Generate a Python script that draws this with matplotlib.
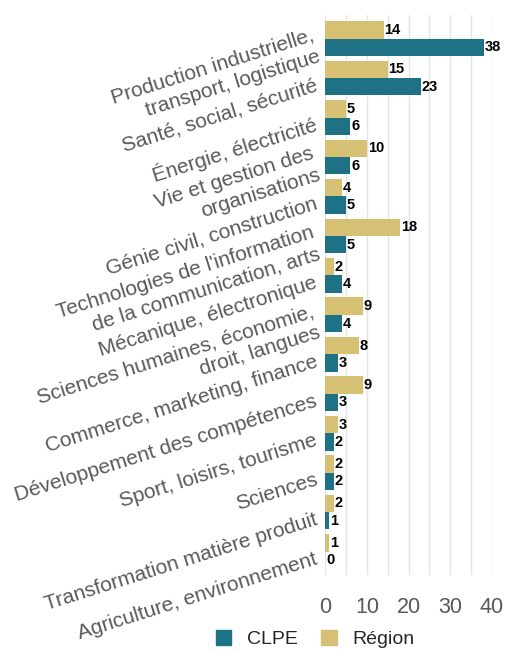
import numpy as np
import matplotlib
matplotlib.use('Agg')
import matplotlib.pyplot as plt
import matplotlib.transforms as mtransforms
from matplotlib.patches import Patch

plt.rcParams['font.family'] = ['Liberation Sans', 'DejaVu Sans']

# Data (top to bottom)
categories = [
    'Production industrielle,\ntransport, logistique',
    'Santé, social, sécurité',
    'Énergie, électricité',
    'Vie et gestion des\norganisations',
    'Génie civil, construction',
    "Technologies de l'information\nde la communication, arts",
    'Mécanique, électronique',
    'Sciences humaines, économie,\ndroit, langues',
    'Commerce, marketing, finance',
    'Développement des compétences',
    'Sport, loisirs, tourisme',
    'Sciences',
    'Transformation matière produit',
    'Agriculture, environnement',
]
region = [14, 15, 5, 10, 4, 18, 2, 9, 8, 9, 3, 2, 2, 1]
clpe = [38, 23, 6, 6, 5, 5, 4, 4, 3, 3, 2, 2, 1, 0]
xticks = [0, 10, 20, 30, 40]

teal = '#1f7286'
khaki = '#d5c073'
grey = '#595959'

fig = plt.figure(figsize=(5.05, 6.5), dpi=100)
ax = fig.add_axes([0.644, 0.115, 0.330, 0.862])

y = np.arange(len(categories))
h = 0.44
ax.barh(y - h / 2, region, height=h, color=khaki, zorder=2)
ax.barh(y + h / 2, clpe, height=h, color=teal, zorder=2)

for yi, v in zip(y - h / 2, region):
    ax.text(v + 0.2, yi, str(v), va='center', ha='left', fontsize=10.5,
            fontweight='bold', color='black')
for yi, v in zip(y + h / 2, clpe):
    ax.text(v + 0.2, yi, str(v), va='center', ha='left', fontsize=10.5,
            fontweight='bold', color='black')

ax.set_xlim(0, 40)
ax.set_ylim(len(categories) - 0.4, -0.6)
ax.set_xticks(xticks)
ax.set_xticks(np.arange(5, 40, 10), minor=True)
ax.grid(axis='x', which='both', color='#e4e4e4', linewidth=1, zorder=0)
ax.tick_params(axis='x', which='both', length=0, labelsize=15.5, labelcolor=grey, pad=16)
ax.tick_params(axis='y', length=0, pad=6)
for s in ax.spines.values():
    s.set_visible(False)

ax.set_yticks(y)
ax.set_yticklabels(categories, fontsize=15, color=grey, rotation=17.5,
                   ha='right', va='center', rotation_mode='anchor',
                   multialignment='right')
# labels sit a little below the group centre in the original
shift = mtransforms.ScaledTranslation(0, -7 / 100, fig.dpi_scale_trans)
for lab in ax.get_yticklabels():
    lab.set_transform(lab.get_transform() + shift)

handles = [Patch(color=teal, label='CLPE'), Patch(color=khaki, label='Région')]
fig.legend(handles=handles, loc='center', bbox_to_anchor=(315 / 505, 1 - 639 / 650),
           ncol=2, frameon=False, fontsize=14, handlelength=0.8, handleheight=0.8,
           columnspacing=1.2, handletextpad=0.8, labelcolor='#262626')

fig.savefig('out.png', dpi=100)
